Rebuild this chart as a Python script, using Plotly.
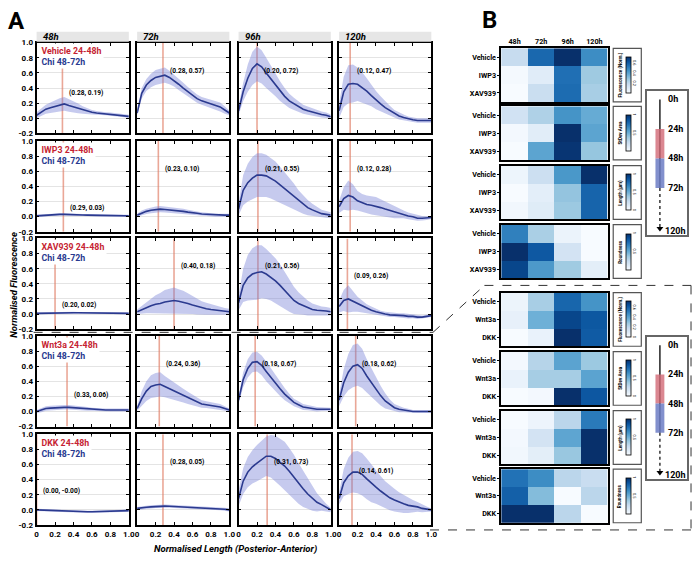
import plotly.graph_objects as go

W, H = 699, 562
FONT = "Roboto, Liberation Sans, Arial, sans-serif"


def PX(x):
    return x / W


def PY(y):
    return 1 - y / H


# ---------------------------------------------------------------- data (A)
X_POS = [0.00, 0.05, 0.10, 0.15, 0.20, 0.25, 0.30, 0.35, 0.40, 0.45, 0.50,
         0.55, 0.60, 0.65, 0.70, 0.75, 0.80, 0.85, 0.90, 0.95, 1.00]
TIMES = ["48h", "72h", "96h", "120h"]
X_TICKS = [0, 0.2, 0.4, 0.6, 0.8, 1.0]
X_TICKTEXT = ["0", "0.2", "0.4", "0.6", "0.8", "1.0"]
Y_TICKS = [-0.2, 0.0, 0.2, 0.4, 0.6, 0.8, 1.0]
Y_TICKTEXT = ["-0.2", "0.0", "0.2", "0.4", "0.6", "0.8", "1.0"]

VEHICLE_MEAN = [
    [0.04, 0.08, 0.12, 0.14, 0.16, 0.18, 0.19, 0.17, 0.15, 0.13, 0.11, 0.09, 0.08, 0.07, 0.065, 0.06, 0.055, 0.05, 0.04, 0.035, 0.025],
    [0.07, 0.33, 0.44, 0.50, 0.54, 0.56, 0.57, 0.54, 0.50, 0.45, 0.40, 0.35, 0.30, 0.26, 0.23, 0.21, 0.19, 0.17, 0.15, 0.11, 0.07],
    [0.10, 0.35, 0.53, 0.66, 0.72, 0.68, 0.60, 0.52, 0.44, 0.36, 0.29, 0.23, 0.19, 0.15, 0.12, 0.10, 0.08, 0.06, 0.05, 0.04, 0.02],
    [0.10, 0.35, 0.45, 0.46, 0.45, 0.41, 0.36, 0.30, 0.24, 0.19, 0.14, 0.10, 0.06, 0.03, 0.01, -0.01, -0.02, -0.03, -0.03, -0.03, -0.03],
]
VEHICLE_SD = [
    [0.04, 0.05, 0.06, 0.07, 0.08, 0.085, 0.09, 0.085, 0.08, 0.065, 0.05, 0.04, 0.03, 0.025, 0.02, 0.02, 0.02, 0.02, 0.02, 0.02, 0.02],
    [0.03, 0.07, 0.08, 0.09, 0.10, 0.10, 0.10, 0.09, 0.08, 0.075, 0.07, 0.065, 0.06, 0.055, 0.05, 0.05, 0.05, 0.055, 0.06, 0.05, 0.03],
    [0.06, 0.12, 0.18, 0.22, 0.23, 0.22, 0.20, 0.17, 0.15, 0.13, 0.11, 0.095, 0.08, 0.07, 0.06, 0.055, 0.05, 0.045, 0.04, 0.035, 0.03],
    [0.10, 0.20, 0.25, 0.25, 0.22, 0.20, 0.17, 0.14, 0.12, 0.10, 0.08, 0.065, 0.05, 0.045, 0.04, 0.035, 0.03, 0.03, 0.03, 0.03, 0.03],
]
VEHICLE_PEAK_X = [0.28, 0.28, 0.20, 0.12]
VEHICLE_PEAK_Y = [0.19, 0.57, 0.72, 0.47]

IWP3_MEAN = [
    [0.01, 0.015, 0.02, 0.025, 0.03, 0.03, 0.03, 0.03, 0.028, 0.025, 0.022, 0.02, 0.02, 0.018, 0.017, 0.016, 0.015, 0.014, 0.013, 0.012, 0.01],
    [0.02, 0.05, 0.07, 0.085, 0.095, 0.10, 0.095, 0.09, 0.085, 0.08, 0.07, 0.06, 0.055, 0.045, 0.035, 0.03, 0.025, 0.02, 0.02, 0.02, 0.02],
    [0.10, 0.35, 0.45, 0.51, 0.55, 0.55, 0.54, 0.51, 0.47, 0.42, 0.37, 0.32, 0.27, 0.21, 0.16, 0.12, 0.09, 0.06, 0.04, 0.03, 0.02],
    [0.13, 0.24, 0.28, 0.26, 0.21, 0.18, 0.16, 0.15, 0.14, 0.12, 0.10, 0.08, 0.06, 0.04, 0.03, 0.01, 0.00, -0.02, -0.02, -0.02, -0.01],
]
IWP3_SD = [
    [0.015, 0.015, 0.015, 0.015, 0.015, 0.015, 0.015, 0.015, 0.015, 0.015, 0.015, 0.015, 0.015, 0.015, 0.015, 0.015, 0.015, 0.015, 0.015, 0.015, 0.015],
    [0.02, 0.03, 0.035, 0.04, 0.04, 0.04, 0.04, 0.04, 0.04, 0.035, 0.035, 0.03, 0.03, 0.025, 0.025, 0.02, 0.02, 0.02, 0.02, 0.02, 0.02],
    [0.08, 0.20, 0.25, 0.28, 0.29, 0.29, 0.28, 0.27, 0.26, 0.24, 0.22, 0.20, 0.17, 0.14, 0.12, 0.10, 0.08, 0.065, 0.05, 0.045, 0.04],
    [0.08, 0.15, 0.20, 0.17, 0.13, 0.12, 0.12, 0.12, 0.12, 0.11, 0.10, 0.09, 0.08, 0.06, 0.05, 0.045, 0.04, 0.035, 0.03, 0.025, 0.02],
]
IWP3_PEAK_X = [0.29, 0.23, 0.21, 0.12]
IWP3_PEAK_Y = [0.03, 0.10, 0.55, 0.28]

XAV939_MEAN = [
    [0.01, 0.012, 0.015, 0.018, 0.02, 0.02, 0.02, 0.02, 0.018, 0.017, 0.016, 0.015, 0.015, 0.014, 0.013, 0.012, 0.012, 0.011, 0.011, 0.01, 0.01],
    [0.03, 0.06, 0.08, 0.11, 0.13, 0.14, 0.16, 0.17, 0.18, 0.17, 0.16, 0.14, 0.12, 0.10, 0.08, 0.07, 0.06, 0.05, 0.04, 0.035, 0.03],
    [0.15, 0.38, 0.48, 0.53, 0.55, 0.56, 0.53, 0.49, 0.44, 0.38, 0.31, 0.24, 0.18, 0.14, 0.11, 0.08, 0.06, 0.05, 0.04, 0.04, 0.03],
    [0.10, 0.18, 0.20, 0.17, 0.13, 0.10, 0.07, 0.05, 0.03, 0.01, 0.00, -0.01, -0.01, -0.02, -0.02, -0.03, -0.03, -0.04, -0.04, -0.03, -0.02],
]
XAV939_SD = [
    [0.012, 0.012, 0.012, 0.012, 0.012, 0.012, 0.012, 0.012, 0.012, 0.012, 0.012, 0.012, 0.012, 0.012, 0.012, 0.012, 0.012, 0.012, 0.012, 0.012, 0.012],
    [0.03, 0.05, 0.07, 0.10, 0.12, 0.14, 0.16, 0.165, 0.17, 0.16, 0.15, 0.135, 0.12, 0.105, 0.09, 0.08, 0.07, 0.06, 0.05, 0.045, 0.04],
    [0.10, 0.22, 0.30, 0.34, 0.36, 0.35, 0.33, 0.31, 0.30, 0.28, 0.25, 0.21, 0.18, 0.15, 0.12, 0.10, 0.08, 0.07, 0.06, 0.055, 0.05],
    [0.08, 0.14, 0.18, 0.14, 0.10, 0.08, 0.06, 0.05, 0.04, 0.035, 0.03, 0.03, 0.03, 0.03, 0.03, 0.03, 0.025, 0.025, 0.02, 0.02, 0.02],
]
XAV939_PEAK_X = [0.20, 0.40, 0.21, 0.09]
XAV939_PEAK_Y = [0.02, 0.18, 0.56, 0.26]

WNT3A_MEAN = [
    [0.00, 0.02, 0.04, 0.045, 0.05, 0.055, 0.055, 0.055, 0.05, 0.045, 0.04, 0.035, 0.03, 0.025, 0.02, 0.02, 0.02, 0.02, 0.02, 0.02, 0.02],
    [0.04, 0.17, 0.27, 0.33, 0.35, 0.36, 0.33, 0.30, 0.27, 0.24, 0.21, 0.18, 0.15, 0.12, 0.10, 0.09, 0.08, 0.07, 0.06, 0.04, 0.02],
    [0.15, 0.42, 0.57, 0.65, 0.66, 0.61, 0.53, 0.45, 0.37, 0.30, 0.23, 0.17, 0.12, 0.09, 0.06, 0.05, 0.04, 0.03, 0.03, 0.03, 0.03],
    [0.15, 0.38, 0.52, 0.60, 0.62, 0.57, 0.47, 0.38, 0.29, 0.21, 0.14, 0.09, 0.05, 0.03, 0.02, 0.01, 0.00, 0.00, 0.00, 0.00, 0.00],
]
WNT3A_SD = [
    [0.02, 0.03, 0.03, 0.03, 0.03, 0.03, 0.03, 0.03, 0.03, 0.03, 0.025, 0.025, 0.02, 0.02, 0.02, 0.02, 0.02, 0.02, 0.02, 0.02, 0.02],
    [0.03, 0.10, 0.13, 0.15, 0.16, 0.16, 0.14, 0.125, 0.11, 0.10, 0.09, 0.08, 0.07, 0.06, 0.05, 0.045, 0.04, 0.04, 0.04, 0.03, 0.02],
    [0.05, 0.10, 0.12, 0.13, 0.13, 0.13, 0.13, 0.12, 0.11, 0.095, 0.08, 0.065, 0.05, 0.045, 0.04, 0.035, 0.03, 0.03, 0.025, 0.02, 0.02],
    [0.08, 0.18, 0.24, 0.28, 0.28, 0.26, 0.22, 0.19, 0.16, 0.13, 0.10, 0.07, 0.05, 0.04, 0.03, 0.025, 0.02, 0.02, 0.02, 0.02, 0.02],
]
WNT3A_PEAK_X = [0.33, 0.24, 0.18, 0.18]
WNT3A_PEAK_Y = [0.06, 0.36, 0.67, 0.62]

DKK_MEAN = [
    [0.00, -0.003, -0.005, -0.008, -0.01, -0.012, -0.015, -0.018, -0.02, -0.022, -0.025, -0.025, -0.025, -0.023, -0.02, -0.02, -0.02, -0.018, -0.015, -0.012, -0.01],
    [0.02, 0.03, 0.035, 0.04, 0.045, 0.048, 0.05, 0.048, 0.045, 0.043, 0.04, 0.037, 0.035, 0.032, 0.03, 0.027, 0.025, 0.02, 0.015, 0.008, 0.00],
    [0.15, 0.38, 0.50, 0.57, 0.62, 0.67, 0.71, 0.71, 0.68, 0.63, 0.58, 0.51, 0.43, 0.35, 0.28, 0.21, 0.15, 0.10, 0.07, 0.03, 0.00],
    [0.15, 0.36, 0.45, 0.50, 0.50, 0.47, 0.41, 0.35, 0.30, 0.25, 0.20, 0.16, 0.13, 0.10, 0.08, 0.06, 0.05, 0.04, 0.02, 0.01, 0.00],
]
DKK_SD = [
    [0.015, 0.015, 0.015, 0.015, 0.015, 0.015, 0.015, 0.015, 0.015, 0.015, 0.015, 0.015, 0.015, 0.015, 0.015, 0.015, 0.015, 0.015, 0.015, 0.015, 0.015],
    [0.02, 0.02, 0.02, 0.02, 0.02, 0.02, 0.02, 0.02, 0.02, 0.02, 0.02, 0.02, 0.02, 0.02, 0.02, 0.02, 0.02, 0.02, 0.02, 0.02, 0.02],
    [0.10, 0.17, 0.20, 0.22, 0.24, 0.25, 0.26, 0.28, 0.30, 0.31, 0.32, 0.31, 0.30, 0.27, 0.24, 0.20, 0.16, 0.12, 0.08, 0.05, 0.03],
    [0.08, 0.18, 0.24, 0.27, 0.28, 0.28, 0.27, 0.25, 0.22, 0.20, 0.18, 0.165, 0.15, 0.135, 0.12, 0.10, 0.08, 0.065, 0.05, 0.035, 0.02],
]
DKK_PEAK_X = [0.00, 0.28, 0.31, 0.14]
DKK_PEAK_Y = [-0.0, 0.05, 0.73, 0.61]

# ---------------------------------------------------------------- data (B)
TOP_ROWS = ["Vehicle", "IWP3", "XAV939"]
BOTTOM_ROWS = ["Vehicle", "Wnt3a", "DKK"]
METRICS = ["Fluorescence (Norm.)", "StDev Area", "Length (µm)", "Roundness"]
BOTTOM_VEHICLE_FLUOR = [0.04, 0.25, 0.58, 0.45]
TOP_STDEV_AREA = [[0.20, 0.33, 0.62, 0.52], [0.03, 0.12, 1.00, 0.55], [0.01, 0.55, 0.98, 0.40]]
TOP_LENGTH = [[0.05, 0.22, 0.60, 1.00], [0.00, 0.10, 0.40, 0.80], [0.03, 0.12, 0.38, 0.80]]
TOP_ROUNDNESS = [[0.70, 0.35, 0.08, 0.02], [1.00, 0.85, 0.20, 0.02], [0.92, 0.60, 0.38, 0.12]]
BOTTOM_STDEV_AREA = [[0.02, 0.30, 0.55, 0.38], [0.07, 0.35, 0.35, 0.55], [0.00, 0.02, 1.00, 0.85]]
BOTTOM_LENGTH = [[0.02, 0.07, 0.30, 0.72], [0.04, 0.20, 0.55, 1.00], [0.05, 0.12, 0.40, 1.00]]
BOTTOM_ROUNDNESS = [[0.75, 0.65, 0.30, 0.25], [0.82, 0.45, 0.02, 0.30], [1.00, 1.00, 0.30, 0.02]]

TL_LABELS = ["0h", "24h", "48h", "72h", "120h"]

# ---------------------------------------------------------------- styles / layout positions
COL_L = [35, 136.7, 239.3, 341]
PW = 93.3
ROW_T = [39.3, 139.3, 238.3, 337.3, 437.3]
PH = 92.2
LABEL_Y = [[0.34, 0.63, 0.63, 0.63],
           [0.12, 0.63, 0.63, 0.63],
           [0.12, 0.63, 0.63, 0.51],
           [0.22, 0.63, 0.63, 0.63],
           [0.25, 0.63, 0.63, 0.52]]
HM_L, HM_R = 505, 612.7
HM_TOPS = [45, 104, 164.3, 224.3, 293.3, 353.3, 413.3, 472.7]
HM_H = 54.5
TL_POS = [0, 1, 2, 3, 4.45]

RED_TXT = "#c61f33"
BLUE_TXT = "#283a8f"
LINE_BLUE = "#2b3a8f"
BAND = "rgba(112,122,212,0.40)"
PEAK_LINE = "rgba(222,120,95,0.65)"
BLUES = [[0, '#f7fbff'], [0.125, '#deebf7'], [0.25, '#c6dbef'], [0.375, '#9ecae1'],
         [0.5, '#6baed6'], [0.625, '#4292c6'], [0.75, '#2171b5'], [0.875, '#08519c'],
         [1, '#08306b']]

fig = go.Figure()
layout = {}
annotations = []
shapes = []
counter = [0]


def new_axes(xdom, ydom, xopts, yopts):
    counter[0] += 1
    n = '' if counter[0] == 1 else str(counter[0])
    layout['xaxis' + n] = dict(domain=xdom, anchor='y' + n, **xopts)
    layout['yaxis' + n] = dict(domain=ydom, anchor='x' + n, **yopts)
    return 'x' + n, 'y' + n


def tfont(size, color='black', weight='bold', style='normal'):
    return dict(family=FONT, size=size, color=color, weight=weight, style=style)


CONDS = [("Vehicle", VEHICLE_MEAN, VEHICLE_SD, VEHICLE_PEAK_X, VEHICLE_PEAK_Y),
         ("IWP3", IWP3_MEAN, IWP3_SD, IWP3_PEAK_X, IWP3_PEAK_Y),
         ("XAV939", XAV939_MEAN, XAV939_SD, XAV939_PEAK_X, XAV939_PEAK_Y),
         ("Wnt3a", WNT3A_MEAN, WNT3A_SD, WNT3A_PEAK_X, WNT3A_PEAK_Y),
         ("DKK", DKK_MEAN, DKK_SD, DKK_PEAK_X, DKK_PEAK_Y)]

for r, (name, means, sds, pkx, pky) in enumerate(CONDS):
    for c in range(4):
        xopts = dict(range=[0, 1], tickvals=X_TICKS, ticktext=X_TICKTEXT, ticks='inside',
                     ticklen=3, tickwidth=1, tickcolor='black', showgrid=False, zeroline=False,
                     showline=True, linecolor='black', linewidth=1.8, mirror='ticks',
                     showticklabels=(r == 4), tickfont=tfont(8), fixedrange=True)
        yopts = dict(range=[-0.2, 1.0], tickvals=Y_TICKS, ticktext=Y_TICKTEXT, ticks='inside',
                     ticklen=3, tickwidth=1, tickcolor='black', showgrid=True,
                     gridcolor='#e4e4e4', gridwidth=1, zeroline=False,
                     showline=True, linecolor='black', linewidth=1.8, mirror='ticks',
                     showticklabels=(c == 0), tickfont=tfont(8), fixedrange=True)
        xa, ya = new_axes([PX(COL_L[c]), PX(COL_L[c] + PW)],
                          [PY(ROW_T[r] + PH), PY(ROW_T[r])], xopts, yopts)
        m = means[c]
        s = sds[c]
        upper = [a + b for a, b in zip(m, s)]
        lower = [a - b for a, b in zip(m, s)]
        fig.add_trace(go.Scatter(x=[pkx[c], pkx[c]], y=[-0.2, 1.0], mode='lines',
                                 line=dict(color=PEAK_LINE, width=1.6), xaxis=xa, yaxis=ya,
                                 hoverinfo='skip', showlegend=False))
        fig.add_trace(go.Scatter(x=X_POS, y=upper, mode='lines', line=dict(width=0),
                                 xaxis=xa, yaxis=ya, hoverinfo='skip', showlegend=False))
        fig.add_trace(go.Scatter(x=X_POS, y=lower, mode='lines', line=dict(width=0),
                                 fill='tonexty', fillcolor=BAND, xaxis=xa, yaxis=ya,
                                 hoverinfo='skip', showlegend=False))
        fig.add_trace(go.Scatter(x=X_POS, y=m, mode='lines', line=dict(color=LINE_BLUE, width=1.6),
                                 xaxis=xa, yaxis=ya, hoverinfo='skip', showlegend=False))
        annotations.append(dict(x=pkx[c] + 0.05, y=LABEL_Y[r][c], xref=xa, yref=ya,
                                text=f"({pkx[c]:.2f}, {pky[c]:.2f})", showarrow=False,
                                xanchor='left', yanchor='middle', font=tfont(6.6)))
        if c == 0:
            annotations.append(dict(
                x=0.025, y=0.99, xref=xa, yref=ya, xanchor='left', yanchor='top', align='left',
                showarrow=False, bgcolor='white', borderpad=1.5,
                text=f"<span style='color:{RED_TXT}'>{name} 24-48h</span><br>"
                     f"<span style='color:{BLUE_TXT}'>Chi 48-72h</span>",
                font=tfont(8.8)))
        if r == 0:
            shapes.append(dict(type='rect', xref='paper', yref='paper',
                               x0=PX(COL_L[c]), x1=PX(COL_L[c] + PW), y0=PY(38.3), y1=PY(28.3),
                               fillcolor='#e6e6e6', line=dict(width=0)))
            annotations.append(dict(x=PX(COL_L[c] + 4), y=PY(33.3), xref='paper', yref='paper',
                                    text=TIMES[c], showarrow=False, xanchor='left',
                                    yanchor='middle', font=tfont(9.5, style='italic')))

# axis titles, panel letters
annotations.append(dict(x=PX(11.5), y=PY(285), xref='paper', yref='paper', showarrow=False,
                        xanchor='center', yanchor='middle',
                        text="Normalised Fluorescence", textangle=-90,
                        font=tfont(9.5, style='italic')))
annotations.append(dict(x=PX(236), y=PY(554), xref='paper', yref='paper', showarrow=False,
                        xanchor='center', yanchor='middle',
                        text="Normalised Length (Posterior-Anterior)",
                        font=tfont(9.5, style='italic')))
annotations.append(dict(x=PX(15), y=PY(17), xref='paper', yref='paper', showarrow=False,
                        xanchor='center', yanchor='middle', text="A", font=tfont(24)))
annotations.append(dict(x=PX(493), y=PY(16), xref='paper', yref='paper', showarrow=False,
                        xanchor='center', yanchor='middle', text="B", font=tfont(24)))

# ---------------------------------------------------------------- heatmaps (B)
TOP_FLUOR = [VEHICLE_PEAK_Y, IWP3_PEAK_Y, XAV939_PEAK_Y]
BOTTOM_FLUOR = [BOTTOM_VEHICLE_FLUOR, WNT3A_PEAK_Y, DKK_PEAK_Y]
HEATMAPS = [(TOP_FLUOR, TOP_ROWS), (TOP_STDEV_AREA, TOP_ROWS), (TOP_LENGTH, TOP_ROWS),
            (TOP_ROUNDNESS, TOP_ROWS), (BOTTOM_FLUOR, BOTTOM_ROWS),
            (BOTTOM_STDEV_AREA, BOTTOM_ROWS), (BOTTOM_LENGTH, BOTTOM_ROWS),
            (BOTTOM_ROUNDNESS, BOTTOM_ROWS)]

for i, (z, rows) in enumerate(HEATMAPS):
    top = HM_TOPS[i]
    xopts = dict(type='category', side='top', showticklabels=(i == 0), ticks='',
                 tickfont=tfont(7.2), showline=True, linecolor='black', linewidth=1.5,
                 mirror=True, showgrid=False, zeroline=False, fixedrange=True)
    yopts = dict(type='category', autorange='reversed', ticks='outside', ticklen=2,
                 tickcolor='black', tickfont=tfont(7.2), showline=True, linecolor='black',
                 linewidth=1.5, mirror=True, showgrid=False, zeroline=False, fixedrange=True)
    xa, ya = new_axes([PX(HM_L), PX(HM_R)], [PY(top + HM_H), PY(top)], xopts, yopts)
    fig.add_trace(go.Heatmap(
        z=z, x=TIMES, y=rows, xaxis=xa, yaxis=ya, colorscale=BLUES, hoverinfo='skip',
        colorbar=dict(x=PX(631.5), xanchor='left', y=PY(top + HM_H / 2), yanchor='middle',
                      len=37 / H, lenmode='fraction', thickness=5, thicknessmode='pixels',
                      outlinewidth=0.8, outlinecolor='black', xpad=0, ypad=0,
                      tickfont=dict(family=FONT, size=4, color='black'), tickangle=90,
                      ticks='', nticks=4)))
    shapes.append(dict(type='rect', xref='paper', yref='paper', x0=PX(618.3), x1=PX(646.7),
                       y0=PY(top + HM_H), y1=PY(top), line=dict(color='#555555', width=1.2)))
    annotations.append(dict(x=PX(625.5), y=PY(top + HM_H / 2), xref='paper', yref='paper',
                            showarrow=False, text=METRICS[i % 4], textangle=-90,
                            xanchor='center', yanchor='middle', font=tfont(4.6)))

# ---------------------------------------------------------------- timelines
for (t0, t1) in [(88, 235), (338, 483)]:
    xopts = dict(range=[0, 1], showline=True, mirror=True, linecolor='#666666', linewidth=1.5,
                 showgrid=False, zeroline=False, showticklabels=False, ticks='', fixedrange=True)
    yopts = dict(range=[4.6, -0.3], showline=True, mirror=True, linecolor='#666666',
                 linewidth=1.5, showgrid=False, zeroline=False, showticklabels=False, ticks='',
                 fixedrange=True)
    xa, ya = new_axes([PX(652), PX(693)], [PY(t1), PY(t0)], xopts, yopts)
    shapes.append(dict(type='rect', xref=xa, yref=ya, x0=0.22, x1=0.44, y0=TL_POS[1],
                       y1=TL_POS[2], fillcolor='rgba(210,105,118,0.8)', line=dict(width=0)))
    shapes.append(dict(type='rect', xref=xa, yref=ya, x0=0.22, x1=0.44, y0=TL_POS[2],
                       y1=TL_POS[3], fillcolor='rgba(108,124,196,0.85)', line=dict(width=0)))
    fig.add_trace(go.Scatter(x=[0.33, 0.33], y=[TL_POS[0], TL_POS[3]], mode='lines',
                             line=dict(color='black', width=1.3), xaxis=xa, yaxis=ya,
                             hoverinfo='skip', showlegend=False))
    fig.add_trace(go.Scatter(x=[0.33, 0.33], y=[TL_POS[3], TL_POS[4] - 0.1], mode='lines',
                             line=dict(color='black', width=1.2, dash='dot'), xaxis=xa,
                             yaxis=ya, hoverinfo='skip', showlegend=False))
    fig.add_trace(go.Scatter(x=[0.33], y=[TL_POS[4] - 0.08], mode='markers',
                             marker=dict(symbol='triangle-down', size=6, color='black'),
                             xaxis=xa, yaxis=ya, hoverinfo='skip', showlegend=False))
    for k, lab in enumerate(TL_LABELS):
        annotations.append(dict(x=(0.40 if k == 4 else 0.47), y=TL_POS[k], xref=xa, yref=ya,
                                text=lab, showarrow=False, xanchor='left', yanchor='middle',
                                font=tfont(9)))

# ---------------------------------------------------------------- dashed connector
DASH = dict(color='#333333', width=1, dash='dash')
for (x0, y0, x1, y1) in [(32, 333.7, 436, 333.7), (436, 333.7, 488, 286),
                         (488, 286, 697, 286), (697, 286, 697, 534.5),
                         (697, 534.5, 428, 534.5)]:
    shapes.append(dict(type='line', xref='paper', yref='paper', x0=PX(x0), y0=PY(y0),
                       x1=PX(x1), y1=PY(y1), line=DASH))

fig.update_layout(**layout)
fig.update_layout(width=W, height=H, margin=dict(l=0, r=0, t=0, b=0),
                  paper_bgcolor='white', plot_bgcolor='white', showlegend=False,
                  annotations=annotations, shapes=shapes,
                  font=dict(family=FONT, color='black'))

fig.write_html("out.html", config={'displayModeBar': False},
               post_script="document.body.style.margin='0px';"
                           "document.body.style.padding='0px';")
